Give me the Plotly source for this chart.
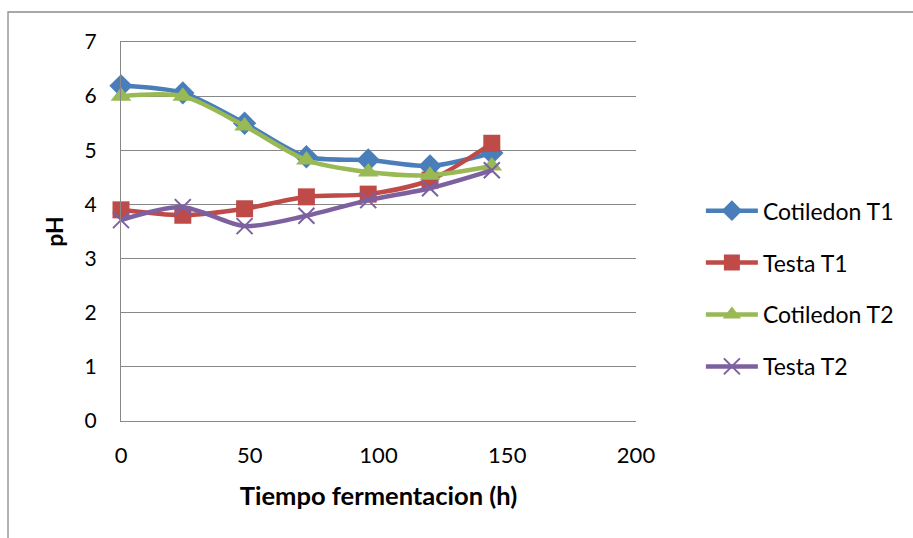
import plotly.graph_objects as go

hours = [0, 24, 48, 72, 96, 120, 144]
cotiledon_t1 = [6.19, 6.06, 5.50, 4.88, 4.82, 4.71, 4.95]
testa_t1 = [3.90, 3.80, 3.92, 4.14, 4.19, 4.45, 5.13]
cotiledon_t2 = [6.00, 6.00, 5.45, 4.82, 4.60, 4.54, 4.71]
testa_t2 = [3.71, 3.95, 3.60, 3.79, 4.08, 4.30, 4.63]

series = [
    ("Cotiledon T1", cotiledon_t1, "#4a7ebb", "diamond", 18),
    ("Testa T1", testa_t1, "#be4b48", "square", 17),
    ("Cotiledon T2", cotiledon_t2, "#98b954", "triangle-up", 18),
    ("Testa T2", testa_t2, "#7d60a0", "x-thin", 16),
]

FONT = "Lato, Open Sans, sans-serif"
fig = go.Figure()
for name, vals, color, sym, sz in series:
    marker = dict(symbol=sym, size=sz, color=color)
    if sym == "x-thin":
        marker = dict(symbol=sym, size=sz, color=color, line=dict(color=color, width=2))
    fig.add_trace(go.Scatter(
        x=hours, y=vals, name=name, mode="lines+markers", legendgroup=name,
        line=dict(color=color, width=4.5, shape="spline", smoothing=0.8),
        marker=marker, cliponaxis=False,
    ))

fig.update_layout(
    width=913, height=538,
    margin=dict(l=121, r=277, t=42, b=117),
    paper_bgcolor="white", plot_bgcolor="white",
    font=dict(family=FONT, size=21, color="black"),
    showlegend=True,
    legend=dict(x=1.126, y=0.349, xanchor="left", yanchor="middle",
                font=dict(size=23, family=FONT), tracegroupgap=19,
                itemwidth=52, borderwidth=0, bgcolor="rgba(0,0,0,0)"),
    xaxis=dict(range=[0, 200], tickvals=[0, 50, 100, 150, 200], showgrid=False,
               zeroline=False, showline=True, linecolor="#888888", linewidth=1.3, mirror=True,
               ticks="outside", ticklen=14, tickcolor="rgba(0,0,0,0)",
               title=dict(text="<b>Tiempo fermentacion (h)</b>", font=dict(size=25.5), standoff=20),
               tickfont=dict(size=22)),
    yaxis=dict(range=[0, 7], dtick=1, showgrid=True, gridcolor="#888888", gridwidth=1.3,
               zeroline=False, showline=True, linecolor="#888888", linewidth=1.3,
               ticks="outside", ticklen=19, tickcolor="rgba(0,0,0,0)",
               title=dict(text="<b>pH</b>", font=dict(size=23), standoff=14),
               tickfont=dict(size=21)),
)
# outer chart border
fig.add_shape(type="rect", xref="paper", yref="paper",
              x0=-0.2194, x1=1.56, y0=1.0792, y1=-0.35,
              line=dict(color="#8c8c8c", width=1.3), fillcolor="rgba(0,0,0,0)", layer="below")

fig.write_html("out.html")
